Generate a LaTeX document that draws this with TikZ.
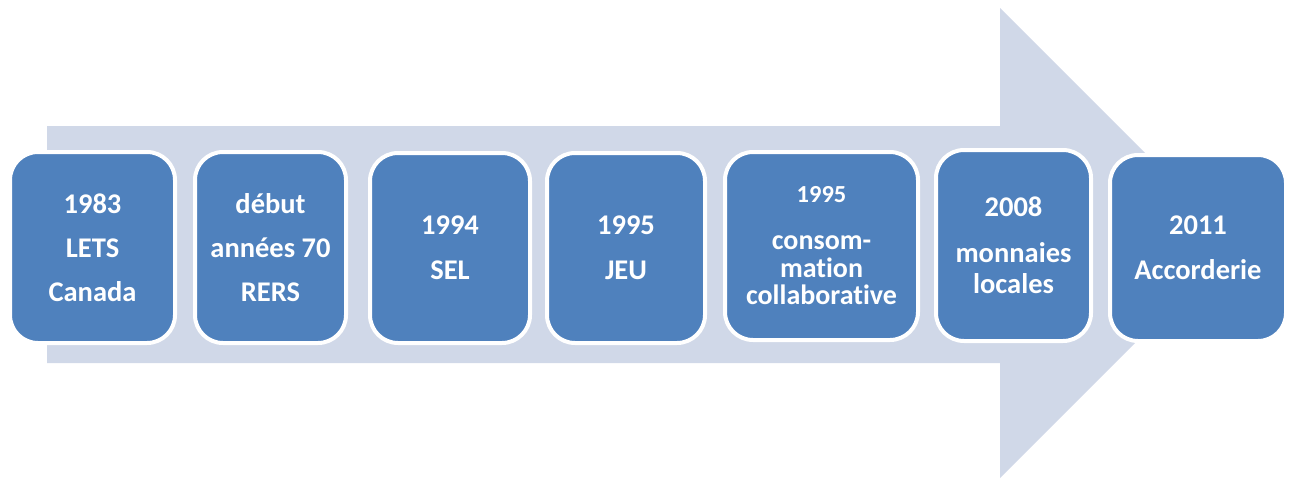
\documentclass[tikz,border=0pt]{standalone}
\usepackage{fontspec}
\setmainfont{Carlito}[Ligatures=CommonOff]
\definecolor{boxblue}{RGB}{79,129,189}
\definecolor{arrowgray}{RGB}{208,216,232}
\begin{document}
\begin{tikzpicture}[x=1pt,y=-1pt,
  yearbox/.style={draw=white, line width=4pt, fill=boxblue, rounded corners=28pt,
    text=white, align=center, inner sep=0pt,
    font=\fontsize{28.5}{34}\selectfont\bfseries}]
\useasboundingbox (0,0) rectangle (1293,480);
% big background arrow
\fill[arrowgray] (47,126) -- (1000,126) -- (1000,8) -- (1235,243) -- (1000,478) -- (1000,363) -- (47,363) -- cycle;
% boxes
\node[yearbox, minimum width=165pt, minimum height=191pt] (b1) at (92.5,247.5) {1983\\[10pt]LETS\\[10pt]Canada};
\node[yearbox, minimum width=151pt, minimum height=191pt] (b2) at (270.5,247.5) {début\\[10pt]années 70\\[10pt]RERS};
\node[yearbox, minimum width=160pt, minimum height=190pt] (b3) at (450,248) {1994\\[11pt]SEL};
\node[yearbox, minimum width=158pt, minimum height=190pt] (b4) at (626,248) {1995\\[11pt]JEU};
\node[yearbox, minimum width=193pt, minimum height=188pt,
  font=\fontsize{28}{27.5}\selectfont\bfseries] (b5) at (821.5,246) {{\fontsize{24.5}{27.5}\selectfont 1995}\\[19.5pt]consom-\\mation\\collaborative};
\node[yearbox, minimum width=155pt, minimum height=191pt] (b6) at (1013.5,245.5) {2008\\[12pt]monnaies\\[-3pt]locales};
\node[yearbox, minimum width=176pt, minimum height=186pt] (b7) at (1198,248) {2011\\[11pt]Accorderie};
\end{tikzpicture}
\end{document}
